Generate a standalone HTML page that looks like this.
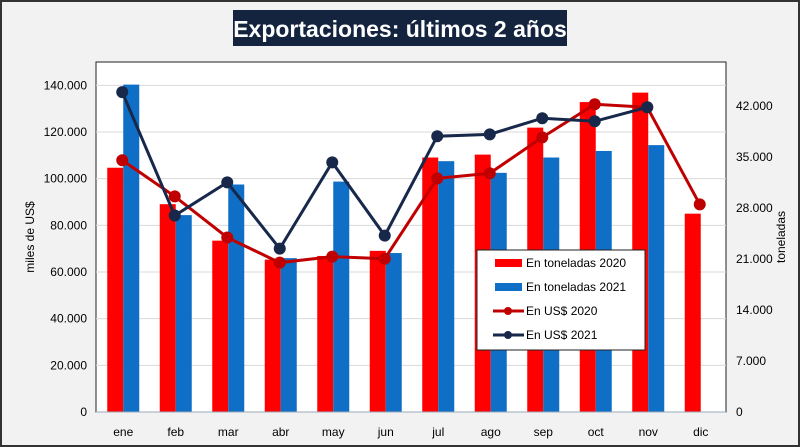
<!DOCTYPE html>
<html><head><meta charset="utf-8"><style>
body{margin:0;background:#fff}
#wrap{position:relative;width:800px;height:447px;background:#f2f2f2;box-sizing:border-box;border:2px solid #333;font-family:"Liberation Sans",sans-serif}
svg text{font-family:"Liberation Sans",sans-serif}
</style></head><body>
<div id="wrap">
<svg id="chart" width="796" height="443" viewBox="2 2 796 443" style="position:absolute;left:0;top:0"></svg>
</div>
<script>
const categories=["ene","feb","mar","abr","may","jun","jul","ago","sep","oct","nov","dic"];
const tons2020=[33.5,28.5,23.5,20.9,21.4,22.1,34.9,35.3,39.0,42.5,43.8,27.2];
const tons2021=[44.9,27.0,31.2,21.1,31.6,21.8,34.4,32.8,34.9,35.8,36.6,null];
const usd2020=[107.9,92.4,74.8,64.0,66.6,65.7,100.1,102.3,117.7,131.9,130.6,89.0];
const usd2021=[137.1,84.2,98.4,70.0,107.0,75.6,118.2,119.0,125.9,124.6,130.6,null];
const leftTicks=[0,20,40,60,80,100,120,140];
const leftTickLabels=["0","20.000","40.000","60.000","80.000","100.000","120.000","140.000"];
const rightTicks=[0,7,14,21,28,35,42];
const rightTickLabels=["0","7.000","14.000","21.000","28.000","35.000","42.000"];

const NS="http://www.w3.org/2000/svg";
const svg=document.getElementById('chart');
const PL=96,PR=726,PT=62,PB=412;
const yL=v=>PB-v/150*(PB-PT);
const yR=v=>PB-v/48*(PB-PT);
const bw=(PR-PL)/categories.length;
const xc=i=>PL+bw*(i+0.5);
function mk(t,a,p){const e=document.createElementNS(NS,t);for(const k in a)e.setAttribute(k,a[k]);(p||svg).appendChild(e);return e;}

let r=mk('rect',{x:PL,y:PT,width:PR-PL,height:PB-PT,fill:'#fff',stroke:'#222','stroke-width':1});



leftTicks.forEach((v,i)=>{
  if(v>0){const g=mk('line',{x1:PL,x2:PR,y1:yL(v),y2:yL(v),stroke:'#d9d9d9','stroke-width':1});
  
  }
  const t=mk('text',{x:87,y:yL(v)+4,'text-anchor':'end','font-size':12,fill:'#000'});
  t.textContent=leftTickLabels[i];
  
  
});
rightTicks.forEach((v,i)=>{
  const t=mk('text',{x:736,y:yR(v)+4,'text-anchor':'start','font-size':12,fill:'#000'});
  t.textContent=rightTickLabels[i];
  
  
});

categories.forEach((c,i)=>{
  const x=xc(i);
  if(tons2020[i]!=null){const b=mk('rect',{x:x-15,y:yR(tons2020[i]),width:16,height:PB-yR(tons2020[i]),fill:'#ff0000'});
  
  }
  if(tons2021[i]!=null){const b=mk('rect',{x:x+1,y:yR(tons2021[i]),width:16,height:PB-yR(tons2021[i]),fill:'#0f6fc6'});
  
  }
  const t=mk('text',{x:x+1,y:436,'text-anchor':'middle','font-size':12,fill:'#000'});
  t.textContent=c;
  
  
});
const ax=mk('line',{x1:PL,x2:PR,y1:PB,y2:PB,stroke:'#9ab','stroke-width':1});



function line(data,color,name){
  const pts=[];data.forEach((v,i)=>{if(v!=null)pts.push([xc(i),yL(v)]);});
  const p=mk('polyline',{points:pts.map(p=>p.join(',')).join(' '),fill:'none',stroke:color,'stroke-width':3});
  
  
  pts.forEach(pt=>{const c=mk('circle',{cx:pt[0],cy:pt[1],r:6,fill:color});
  
  });
}
line(usd2020,'#c00000','usd-2020');
line(usd2021,'#17284a','usd-2021');

// legend
const lg=mk('g',{});


mk('rect',{x:477,y:250,width:168,height:100,fill:'#fff',stroke:'#222','stroke-width':1},lg);
const items=[['En toneladas 2020','#ff0000','bar'],['En toneladas 2021','#0f6fc6','bar'],['En US$ 2020','#c00000','line'],['En US$ 2021','#17284a','line']];
items.forEach((it,i)=>{
  const y=263+i*24;
  if(it[2]=='bar')mk('rect',{x:495,y:y-4,width:27,height:8,fill:it[1]},lg);
  else{mk('line',{x1:493,x2:524,y1:y,y2:y,stroke:it[1],'stroke-width':3},lg);mk('circle',{cx:508,cy:y,r:4,fill:it[1]},lg);}
  const t=mk('text',{x:526,y:y+4,'font-size':12,fill:'#000'},lg);
  t.textContent=it[0];
  
  
});

// titles
const tb=mk('rect',{x:233,y:10,width:334,height:36,fill:'#14243f'});


const tt=mk('text',{x:400,y:37,'text-anchor':'middle','font-size':23,'font-weight':'bold',fill:'#fff'});
tt.textContent='Exportaciones: últimos 2 años';


const yl=mk('text',{x:0,y:0,'text-anchor':'middle','font-size':12,fill:'#000',transform:'translate(34,237) rotate(-90)'});
yl.textContent='miles de US$';


const yr=mk('text',{x:0,y:0,'text-anchor':'middle','font-size':12,fill:'#000',transform:'translate(785,237) rotate(-90)'});
yr.textContent='toneladas';


</script>
</body></html>
